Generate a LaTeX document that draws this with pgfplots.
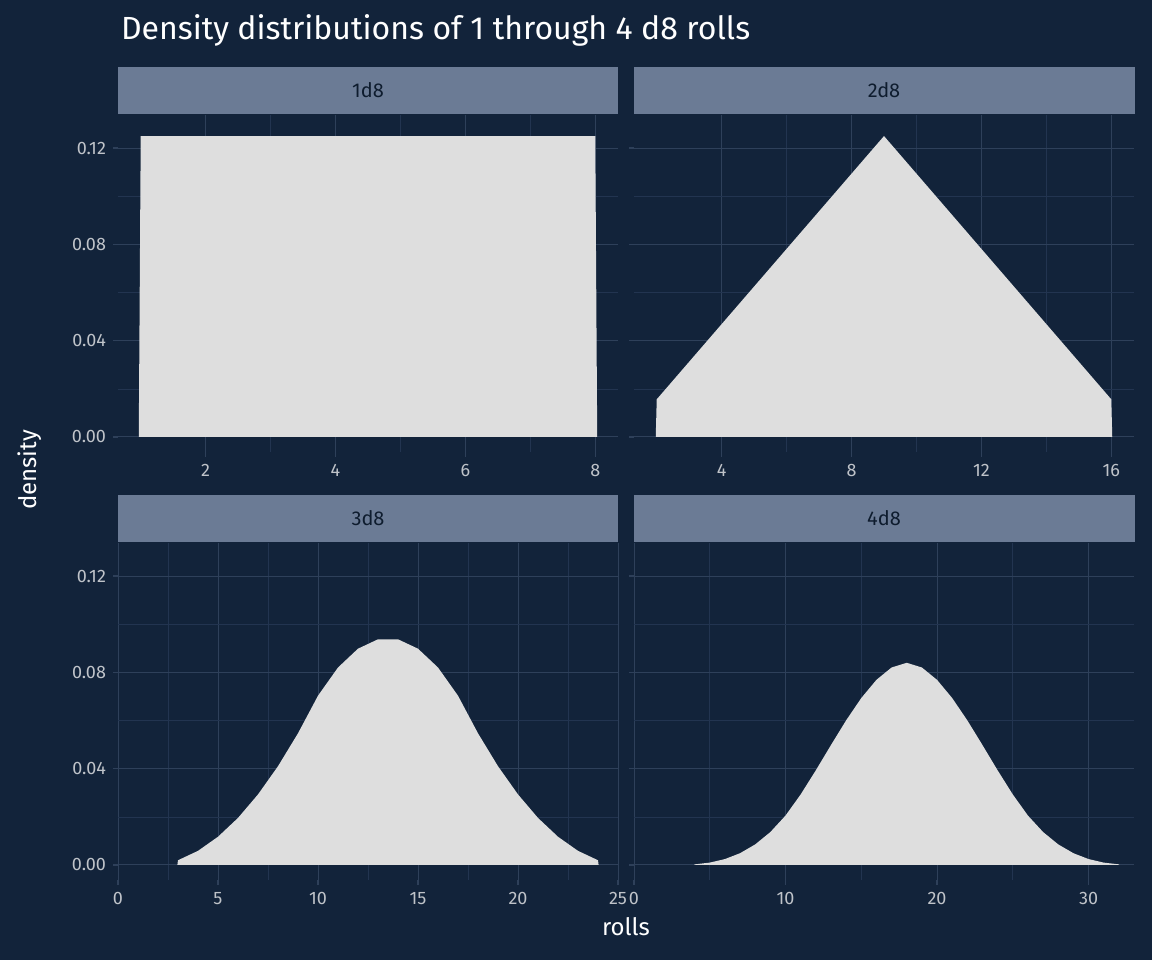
\documentclass[border=0pt]{standalone}
\usepackage{pgfplots}
\pgfplotsset{compat=1.18}
\usepackage{fontspec}
\setmainfont{Fira Sans}
\definecolor{bg}{HTML}{12233A}
\definecolor{strip}{HTML}{6B7B95}
\definecolor{grmaj}{HTML}{2E405A}
\definecolor{grmin}{HTML}{223450}
\definecolor{fillc}{HTML}{DEDEDE}
\definecolor{txt}{HTML}{BFC3C9}
\pgfplotsset{panel/.style={
  scale only axis, width=250pt, height=168.5pt, anchor=north west,
  ymin=-0.00625, ymax=0.13375,
  ytick={0,0.04,0.08,0.12},
  yticklabel style={/pgf/number format/fixed,/pgf/number format/fixed zerofill,/pgf/number format/precision=2},
  /pgf/number format/assume math mode=true,
  ticklabel style={font=\fontsize{9}{10}\selectfont, text=txt},
  axis line style={draw=none},
  grid=both, major grid style={grmaj, line width=0.5pt}, minor grid style={grmin, line width=0.3pt},
  minor tick num=1,
  tick align=outside, major tick length=2.5pt, minor tick length=0pt,
  major tick style={grmaj, line width=0.6pt},
  xtick pos=bottom, ytick pos=left,
  clip=true,
}}
\begin{document}
\begin{tikzpicture}
\fill[bg] (0pt,0pt) rectangle (576pt,480pt);
\node[anchor=west,text=white,font=\fontsize{16}{18}\selectfont] at (57pt,465pt) {Density distributions of 1 through 4 d8 rolls};
\fill[strip] (59pt,423pt) rectangle (309pt,446.5pt);
\fill[strip] (317pt,423pt) rectangle (567.5pt,446.5pt);
\fill[strip] (59pt,209pt) rectangle (309pt,232.5pt);
\fill[strip] (317pt,209pt) rectangle (567.5pt,232.5pt);
\node[text=bg!80!black,font=\fontsize{10}{12}\selectfont] at (184pt,434.7pt) {1d8};
\node[text=bg!80!black,font=\fontsize{10}{12}\selectfont] at (442pt,434.7pt) {2d8};
\node[text=bg!80!black,font=\fontsize{10}{12}\selectfont] at (184pt,220.7pt) {3d8};
\node[text=bg!80!black,font=\fontsize{10}{12}\selectfont] at (442pt,220.7pt) {4d8};

\begin{axis}[panel, at={(59pt,422.5pt)}, xmin=0.65, xmax=8.35, xtick={2,4,6,8}]
\addplot[fill=fillc, draw=none] coordinates {(0.97,0)(1,0.125)(8,0.125)(8.03,0)} \closedcycle;
\end{axis}
\begin{axis}[panel, at={(317pt,422.5pt)}, xmin=1.3, xmax=16.7, xtick={4,8,12,16}, yticklabels={}]
\addplot[fill=fillc, draw=none] coordinates {(1.97,0)(2,0.015625)(9,0.125)(16,0.015625)(16.03,0)} \closedcycle;
\end{axis}
\begin{axis}[panel, at={(59pt,208.5pt)}, xmin=0, xmax=25, xtick={0,5,10,15,20,25}]
\addplot[fill=fillc, draw=none] table[x=s, y expr=\thisrow{c}/512] {
s c
2.97 0
3 1
4 3
5 6
6 10
7 15
8 21
9 28
10 36
11 42
12 46
13 48
14 48
15 46
16 42
17 36
18 28
19 21
20 15
21 10
22 6
23 3
24 1
24.03 0
} \closedcycle;
\end{axis}
\begin{axis}[panel, at={(317pt,208.5pt)}, xmin=0, xmax=33, xtick={0,10,20,30}, yticklabels={}]
\addplot[fill=fillc, draw=none] table[x=s, y expr=\thisrow{c}/4096] {
s c
3.97 0
4 1
5 4
6 10
7 20
8 35
9 56
10 84
11 120
12 161
13 204
14 246
15 284
16 315
17 336
18 344
19 336
20 315
21 284
22 246
23 204
24 161
25 120
26 84
27 56
28 35
29 20
30 10
31 4
32 1
32.03 0
} \closedcycle;
\end{axis}
\node[text=white,font=\fontsize{12}{14}\selectfont] at (313pt,16.5pt) {rolls};
\node[text=white,font=\fontsize{12}{14}\selectfont,rotate=90] at (15pt,245pt) {density};
\end{tikzpicture}
\end{document}
